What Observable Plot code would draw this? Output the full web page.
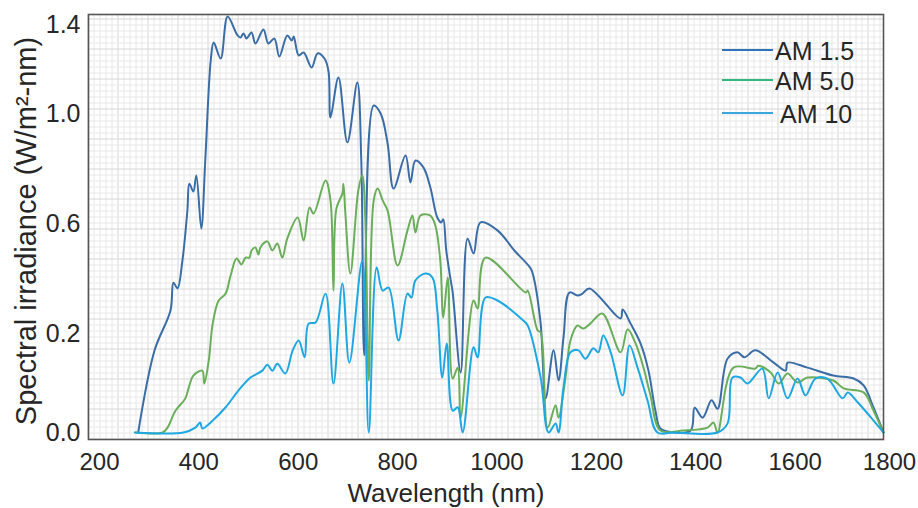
<!DOCTYPE html>
<html><head><meta charset="utf-8">
<script src="https://cdn.jsdelivr.net/npm/d3@7"></script>
<script src="https://cdn.jsdelivr.net/npm/@observablehq/plot@0.6"></script>
<style>html,body{margin:0;padding:0;background:#fff} svg{display:block}</style>
</head><body><div id="chart"></div>
<script>
const seriesNames = ["AM 1.5", "AM 5.0", "AM 10"];
const seriesColors = ["#3a6da6", "#6aae5b", "#1ea8e2"];
const legendColors = ["#2f74b8", "#35b67c", "#3aa6dd"];
const xTicks = [200, 400, 600, 800, 1000, 1200, 1400, 1600];
const xLastTick = [1800];
const yTicks = [0.0, 0.2, 0.6, 1.0, 1.4];
// the picture's y labels are unevenly spaced: their heights above the 0.0 label, in hundreds of px
const yTickSpacing = [0, 0.99, 2.09, 3.19, 4.08];

const am15_nm = [300,333,365,371,379,389,399,403,411,417,427,435,446,452,466,480,500,506,512,518,528,536,552,562,574,584,600,609,613,623,633,649,661,675,683,687,703,721,741,749,755,774,788,802,814,838,848,858,874,888,902,910,914,920,929,933,949,963,975,989,1023,1058,1090,1096,1110,1120,1136,1146,1156,1168,1184,1194,1208,1271,1275,1291,1311,1327,1341,1351,1377,1412,1420,1436,1454,1466,1486,1506,1520,1542,1579,1603,1607,1647,1699,1740,1760,1780,1800];
const am15_val = [0.00,0.166,0.284,0.385,0.364,0.465,0.647,0.745,0.716,0.775,0.582,0.829,1.238,1.319,1.247,1.436,1.351,1.342,1.36,1.337,1.364,1.315,1.378,1.315,1.337,1.256,1.351,1.328,1.346,1.261,1.274,1.207,1.27,1.247,1.19,0.985,1.162,0.895,1.139,0.829,0.156,1.036,1.0,0.891,0.727,0.847,0.749,0.829,0.804,0.731,0.622,0.604,0.615,0.502,0.393,0.349,0.121,0.545,0.491,0.604,0.575,0.5,0.436,0.404,0.236,0.069,0.166,0.105,0.192,0.349,0.338,0.345,0.364,0.255,0.287,0.236,0.18,0.125,0.044,0.008,0.0,0.004,0.05,0.03,0.065,0.048,0.149,0.162,0.152,0.166,0.141,0.125,0.141,0.131,0.115,0.109,0.095,0.05,0.0];

const am50_nm = [295,349,359,375,395,403,411,429,433,442,450,462,476,486,498,508,516,524,528,536,542,546,560,570,580,590,600,621,633,645,653,677,687,693,699,711,713,717,727,743,751,757,764,774,782,792,802,822,842,852,858,868,888,898,908,914,923,933,943,949,975,983,999,1080,1084,1104,1110,1124,1140,1146,1160,1170,1184,1196,1210,1234,1271,1285,1301,1317,1331,1351,1397,1446,1458,1466,1498,1542,1548,1573,1589,1607,1627,1647,1699,1720,1760,1780,1800];
const am50_val = [0,0,0.010,0.044,0.069,0.095,0.115,0.125,0.099,0.145,0.236,0.32,0.345,0.411,0.473,0.451,0.476,0.476,0.502,0.513,0.487,0.513,0.535,0.502,0.527,0.476,0.545,0.622,0.538,0.658,0.636,0.756,0.684,0.356,0.655,0.709,0.745,0.636,0.418,0.72,0.775,0.622,0.105,0.684,0.727,0.684,0.647,0.447,0.575,0.629,0.567,0.629,0.629,0.593,0.465,0.258,0.404,0.109,0.131,0.030,0.32,0.291,0.476,0.349,0.356,0.211,0.204,0.010,0.055,0.030,0.111,0.186,0.229,0.218,0.236,0.273,0.162,0.215,0.18,0.131,0.075,0.004,0.004,0.010,0.020,0.0,0.131,0.129,0.135,0.121,0.099,0.119,0.101,0.111,0.105,0.089,0.081,0.044,0];

const am10_nm = [293,391,415,425,429,450,476,502,526,550,560,570,580,596,611,623,635,643,657,677,693,711,725,751,764,780,792,804,824,842,850,858,878,892,902,912,921,933,943,953,975,983,999,1023,1075,1084,1110,1126,1140,1146,1156,1170,1186,1200,1216,1226,1236,1251,1275,1289,1305,1325,1345,1377,1466,1486,1496,1512,1526,1556,1569,1587,1607,1627,1643,1663,1687,1718,1728,1748,1780,1800];
const am10_val = [0,0,0.010,0.020,0.008,0.024,0.051,0.085,0.111,0.125,0.137,0.125,0.139,0.119,0.166,0.186,0.152,0.236,0.24,0.345,0.099,0.382,0.141,0.465,0,0.44,0.356,0.367,0.186,0.345,0.331,0.393,0.418,0.404,0.284,0.111,0.18,0.044,0.051,0,0.172,0.152,0.331,0.32,0.247,0.229,0.111,0,0.018,0,0.091,0.162,0.166,0.149,0.170,0.162,0.196,0.162,0.075,0.176,0.131,0.065,0,0,0,0.018,0.111,0.111,0.099,0.129,0.069,0.121,0.069,0.109,0.075,0.109,0.109,0.069,0.081,0.061,0.024,0];

const seriesData = [[am15_nm, am15_val], [am50_nm, am50_val], [am10_nm, am10_val]];
const rows = seriesData.flatMap(([nm, val], i) => nm.map((w, j) => ({series: seriesNames[i], nm: w, v: val[j]})));

// piecewise warp reproducing the uneven label spacing of the reference axis
const warp = d3.scaleLinear().domain(yTicks).range(yTickSpacing);

function gridMark(index, scales, values, dims) {
  const x0 = dims.marginLeft, x1 = dims.width - dims.marginRight;
  const y0 = dims.marginTop, y1 = dims.height - dims.marginBottom;
  const g = d3.create("svg:g");
  const step = 6;
  let i = 0;
  for (let x = x0; x <= x1; x += step, i++) {
    g.append("line").attr("x1", x).attr("x2", x).attr("y1", y0).attr("y2", y1)
      .attr("stroke", i % 5 === 0 ? "#d6d6d6" : "#e8e8e8").attr("stroke-width", 1);
  }
  i = 0;
  for (let y = y1; y >= y0; y -= step, i++) {
    g.append("line").attr("x1", x0).attr("x2", x1).attr("y1", y).attr("y2", y)
      .attr("stroke", i % 5 === 0 ? "#d6d6d6" : "#e8e8e8").attr("stroke-width", 1);
  }
  return g.node();
}

function legendMark(index, scales, values, dims) {
  const xr = dims.width - dims.marginRight;
  const g = d3.create("svg:g").attr("text-anchor", "start");
  const offs = [36, 66, 99];
  seriesNames.forEach((name, i) => {
    const y = dims.marginTop + offs[i];
    g.append("line").attr("x1", xr - 161).attr("x2", xr - 110).attr("y1", y).attr("y2", y)
      .attr("stroke", legendColors[i]).attr("stroke-width", 2);
    g.append("text").attr("x", xr - 108 + (i === 2 ? 5 : 0)).attr("y", y + 9.5)
      .attr("text-anchor", "start").attr("font-size", 25).attr("fill", "#262626").text(name);
  });
  return g.node();
}

const chart = Plot.plot({
  width: 918, height: 508,
  marginLeft: 88, marginRight: 35, marginTop: 14, marginBottom: 69,
  style: {fontFamily: "'Liberation Sans', Arial, sans-serif", background: "#fff", color: "#262626"},
  x: {domain: [200, 1800]},
  y: {type: "linear", transform: v => warp(v), domain: [-0.07, 4.18], axis: null},
  color: {domain: seriesNames, range: seriesColors},
  marks: [
    gridMark,
    Plot.line(rows, {x: "nm", y: "v", z: "series", stroke: "series", strokeWidth: 2, curve: "catmull-rom"}),
    Plot.frame({stroke: "#555", strokeWidth: 1.6}),
    Plot.axisX({ticks: xTicks, tickSize: 0, tickPadding: 13, fontSize: 24, dx: 11, label: null, tickFormat: d => String(d)}),
    Plot.axisX({ticks: xLastTick, tickSize: 0, tickPadding: 13, fontSize: 24, dx: 6, label: null, tickFormat: d => String(d)}),
    Plot.text(yTicks, {y: d => d, text: d => d.toFixed(1), frameAnchor: "left", textAnchor: "end", dx: -8, fontSize: 25, fill: "#262626"}),
    Plot.text(["Wavelength (nm)"], {text: d => d, frameAnchor: "bottom", dx: -40, dy: 62, lineAnchor: "bottom", fontSize: 26, fill: "#262626"}),
    Plot.text(["Spectral irradiance (W/m²-nm)"], {text: d => d, frameAnchor: "left", textAnchor: "middle", rotate: -90, dx: -62, dy: 4, fontSize: 29, fill: "#262626"}),
    legendMark
  ]
});
document.getElementById("chart").appendChild(chart);
</script>
</body></html>
